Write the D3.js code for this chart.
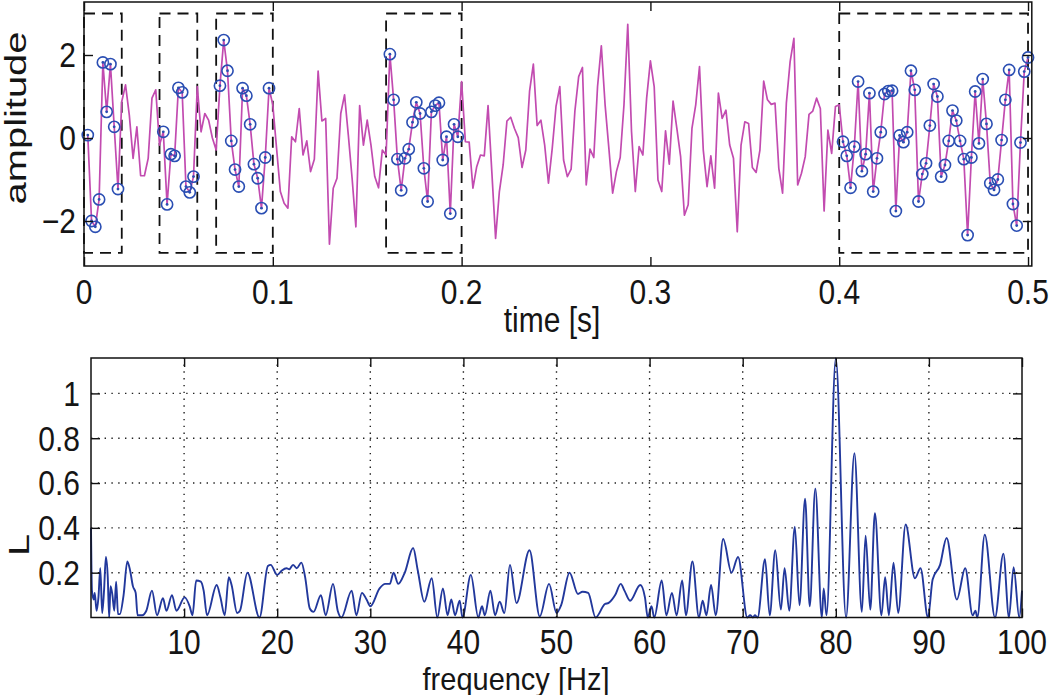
<!DOCTYPE html>
<html>
<head>
<meta charset="utf-8">
<script src="https://cdn.jsdelivr.net/npm/d3@7"></script>
<style>
  html, body { margin: 0; padding: 0; background: #fff; }
  svg { display: block; }
  text { font-family: "Liberation Sans", Arial, Helvetica, sans-serif; fill: #151515; }
</style>
</head>
<body>
<svg id="chart" width="1050" height="695"></svg>
<script>
// ---------------- DATA ----------------
// time series sampled every 2 ms, first sample at t = 0.002 s
const sampleStep = 0.002;
const amplitude = [
  0.07,-2.0,-2.14,-1.48,1.82,0.63,1.78,0.27,-1.23,0.88,
  1.28,0.55,-0.49,0.27,-0.91,-0.91,-0.49,0.96,1.16,-0.17,
  0.15,-1.6,-0.39,-0.43,1.21,1.10,-1.17,-1.31,-0.93,1.24,
  0.15,0.59,0.43,0.0,-0.29,1.26,2.36,1.62,-0.07,-0.76,
  -1.17,1.2,1.02,0.33,-0.63,-0.97,-1.69,-0.47,1.2,0.8,
  -0.25,-1.29,-1.57,-1.69,0.03,-0.09,0.71,-0.41,-0.07,-0.81,
  -0.51,1.61,0.41,0.47,-2.56,-1.21,-0.97,0.59,1.04,0.07,
  -0.97,-2.14,0.78,-0.17,0.43,-0.17,-0.93,-1.2,-0.29,-0.41,
  2.02,0.92,-0.51,-1.26,-0.49,-0.27,0.38,0.86,0.59,-0.73,
  -1.53,0.63,0.78,0.85,-0.53,0.03,-1.82,0.33,0.03,1.36,
  -0.09,-0.1,-1.21,-0.69,-0.41,-0.43,0.78,-0.81,-2.42,-1.29,
  -0.65,0.41,0.5,0.23,0.01,-0.71,-0.29,1.13,1.78,0.3,
  0.43,-0.17,-1.09,-0.25,0.76,1.24,-0.53,-0.93,-0.75,0.65,
  1.48,1.7,-1.13,-0.27,-0.47,1.24,2.22,0.8,-0.25,-1.33,
  -0.81,-0.47,0.8,2.74,0.15,-1.29,-0.21,-0.41,0.96,1.86,
  1.24,-1.01,-1.29,0.17,-0.63,0.89,0.23,-0.45,-1.86,-1.61,
  0.23,0.8,1.72,-0.29,-1.17,-0.43,-1.21,1.08,0.47,0.67,
  -0.17,-0.49,-2.26,-0.17,0.39,0.35,-0.71,-0.83,-0.29,1.37,
  0.92,0.81,0.84,-0.73,-1.33,0.84,1.84,2.4,-1.13,-0.85,
  -0.45,0.57,0.65,0.96,0.71,-1.76,0.19,-0.37,0.76,0.8,
  -0.09,-0.43,-1.2,-0.21,1.36,-0.8,-0.39,1.08,-1.29,-0.49,
  0.14,1.06,1.13,1.14,-1.76,0.06,-0.1,0.14,1.62,1.16,
  -1.53,-0.87,-0.61,0.3,1.3,1.0,-0.93,-0.65,-0.07,0.66,
  0.42,-0.07,-0.51,-2.34,-0.47,1.12,-0.13,1.42,0.34,-1.09,
  -1.25,-1.0,-0.05,0.92,1.64,-1.59,-2.11,-0.11,1.6,1.94
];
// sample-number ranges (1-based) that are marked with circles
const markedRanges = [[1, 9], [21, 29], [36, 49], [81, 99], [201, 250]];
// observation windows drawn as dashed boxes
const windowStart = [0, 0.04, 0.07, 0.16, 0.40];
const windowEnd   = [0.02, 0.06, 0.10, 0.20, 0.50];
const windowAmp   = [-2.77, 3.0];
const timeTicks = [0, 0.1, 0.2, 0.3, 0.4, 0.5];
const timeTickLabels = ["0", "0.1", "0.2", "0.3", "0.4", "0.5"];
const ampTicks = [-2, 0, 2];
const ampTickLabels = ["\u22122", "0", "2"];

// spectrum (frequency in Hz, L)
const freq = [
  0,0.1,0.3,0.4,0.6,0.8,1.0,1.2,1.4,1.6,1.8,1.95,2.1,2.3,2.5,2.7,2.9,3.1,3.5,3.9,
  4.2,4.5,4.8,5.0,5.5,5.94,6.55,7.09,7.73,8.1,8.7,9.17,10.06,10.6,10.9,11.3,11.8,12.1,12.46,13.5,
  13.9,14.36,14.8,15.1,15.7,16.0,16.8,18.1,19.0,19.3,20,20.5,21,21.3,21.7,22.1,22.6,23.0,23.5,23.9,
  24.7,25.2,26.0,26.5,26.9,28,28.5,29.1,29.6,30,31,31.6,32.1,32.5,33,33.7,34.6,35.1,35.8,36.6,
  37.2,37.8,38.3,38.7,39.1,39.6,39.9,40.8,41.6,42,42.3,42.9,43.4,43.9,44.4,45.0,45.7,47.1,48.2,49.2,
  50.0,50.5,51.4,52.3,52.8,53.4,54.2,55.2,55.6,56.3,56.9,57.3,57.9,59,59.5,59.8,60.2,60.5,61.3,61.8,
  62.4,62.9,63.5,63.9,64.6,65.3,65.7,66.1,66.6,67.1,67.9,68.8,69.5,70.5,70.8,71.1,71.3,71.6,72.4,72.9,
  73.5,74.1,74.5,75,75.6,76.1,76.7,77.2,77.8,78.5,78.7,79.0,80.0,81.1,82,82.8,83.2,83.7,84.2,84.9,
  85.3,85.7,86.2,86.7,87.5,88.5,89.1,89.9,90.4,91.2,91.9,93.0,93.9,94.7,95,95.2,96.0,97.1,98,98.6,
  99.1,99.7,100
];
const Lvalue = [
  0.4,0.12,0.08,0.11,0.03,0.09,0.22,0.02,0.12,0.27,0.18,0.0,0.14,0.1,0.03,0.16,0.015,0.015,0.1,0.25,
  0.21,0.14,0.11,0.01,0.01,0.03,0.12,0.01,0.086,0.03,0.1,0.03,0.09,0.05,0.01,0.165,0.16,0.12,0.01,0.145,
  0.09,0.01,0.18,0.145,0.02,0.03,0.2,0.0,0.23,0.235,0.19,0.21,0.22,0.215,0.235,0.22,0.245,0.18,0.04,0.025,
  0.1,0.01,0.15,0.03,0.0,0.12,0.01,0.11,0.08,0.05,0.13,0.15,0.15,0.2,0.15,0.2,0.31,0.21,0.07,0.175,
  0.0,0.13,0.01,0.08,0.01,0.075,0.0,0.19,0.0,0.05,0.01,0.12,0.01,0.07,0.02,0.235,0.065,0.3,0.005,0.15,
  0.02,0.055,0.2,0.105,0.115,0.11,0.0,0.06,0.065,0.1,0.15,0.12,0.075,0.145,0.09,0.0,0.05,0.0,0.165,0.01,
  0.11,0.01,0.165,0.01,0.25,0.0,0.075,0.01,0.145,0.01,0.35,0.2,0.27,0.0,0.01,0.0,0.01,0.0,0.26,0.01,
  0.3,0.035,0.22,0.03,0.405,0.055,0.53,0.05,0.575,0.0,0.13,0.01,1.157,0.0,0.733,0.025,0.365,0.035,0.465,0.01,
  0.18,0.01,0.245,0.02,0.415,0.175,0.22,0.0,0.17,0.235,0.355,0.08,0.22,0.01,0.03,0.0,0.37,0.0,0.285,0.0,
  0.225,0.0,0.12
];
const freqTicks = [10,20,30,40,50,60,70,80,90,100];
const freqTickLabels = ["10","20","30","40","50","60","70","80","90","100"];
const LTicks = [0.2,0.4,0.6,0.8,1];
const LTickLabels = ["0.2","0.4","0.6","0.8","1"];

// ---------------- DRAWING ----------------
const svg = d3.select("#chart");
const tickLen = 9;
const fs = 30;          // font size
const sy = 1.15;        // vertical stretch of the lettering
const capH = 0.716 * fs * sy;

function hText(g, x, y, str, anchor, size = fs, stretch = sy) {   // y = baseline
  return g.append("text").attr("transform", `translate(${x},${y}) scale(1,${stretch})`)
    .attr("text-anchor", anchor).attr("font-size", size).text(str);
}
function vText(g, x, y, str, stretch) {  // rotated label, x = baseline
  return g.append("text").attr("transform", `translate(${x},${y}) rotate(-90) scale(${stretch},1)`)
    .attr("text-anchor", "middle").attr("font-size", fs).text(str);
}
function frame(g, x0, x1, y0, y1) {
  g.append("rect").attr("x", x0).attr("y", y0).attr("width", x1 - x0).attr("height", y1 - y0)
    .attr("fill", "none").attr("stroke", "#111").attr("stroke-width", 1.5);
}

// ===== top panel =====
const xT = d3.scaleLinear().domain([0, 0.502]).range([84, 1031.8]);
const yT = d3.scaleLinear().domain([-3.084, 3.277]).range([266, 2]);
const gTop = svg.append("g");
const samples = amplitude.map((v, i) => ({ t: (i + 1) * sampleStep, v, n: i + 1 }));

windowStart.forEach((s, i) => {
  gTop.append("rect")
    .attr("x", xT(s)).attr("y", yT(windowAmp[1]))
    .attr("width", xT(windowEnd[i]) - xT(s))
    .attr("height", yT(windowAmp[0]) - yT(windowAmp[1]))
    .attr("fill", "none").attr("stroke", "#111").attr("stroke-width", 1.8)
    .attr("stroke-dasharray", "11,7");
});

gTop.append("path").datum(samples)
  .attr("fill", "none").attr("stroke", "#c24bb0").attr("stroke-width", 1.7)
  .attr("stroke-linejoin", "round")
  .attr("d", d3.line().x(d => xT(d.t)).y(d => yT(d.v)));

const marked = samples.filter(d => markedRanges.some(r => d.n >= r[0] && d.n <= r[1]));
gTop.selectAll("circle.m").data(marked).join("circle").attr("class", "m")
  .attr("cx", d => xT(d.t)).attr("cy", d => yT(d.v)).attr("r", 5.6)
  .attr("fill", "none").attr("stroke", "#2a4eb3").attr("stroke-width", 1.6);
gTop.selectAll("circle.d").data(marked).join("circle").attr("class", "d")
  .attr("cx", d => xT(d.t)).attr("cy", d => yT(d.v)).attr("r", 1.4)
  .attr("fill", "#2a4eb3");

frame(gTop, xT.range()[0], xT.range()[1], yT.range()[1], yT.range()[0]);
gTop.append("g").attr("transform", `translate(0,${yT.range()[0]})`)
  .call(d3.axisBottom(xT).tickValues(timeTicks).tickFormat("").tickSizeInner(-tickLen).tickSizeOuter(0));
gTop.append("g").attr("transform", `translate(0,${yT.range()[1]})`)
  .call(d3.axisTop(xT).tickValues(timeTicks).tickFormat("").tickSizeInner(-tickLen).tickSizeOuter(0));
gTop.append("g").attr("transform", `translate(${xT.range()[0]},0)`)
  .call(d3.axisLeft(yT).tickValues(ampTicks).tickFormat("").tickSizeInner(-tickLen).tickSizeOuter(0));
gTop.append("g").attr("transform", `translate(${xT.range()[1]},0)`)
  .call(d3.axisRight(yT).tickValues(ampTicks).tickFormat("").tickSizeInner(-tickLen).tickSizeOuter(0));

timeTicks.forEach((t, i) => hText(gTop, xT(t), yT.range()[0] + 13 + capH, timeTickLabels[i], "middle"));
ampTicks.forEach((a, i) => hText(gTop, xT.range()[0] - 8, yT(a) + capH / 2, ampTickLabels[i], "end"));
hText(gTop, 552, 332, "time [s]", "middle");
vText(gTop, 26, 118, "amplitude", 1.33);

// ===== bottom panel =====
const xB = d3.scaleLinear().domain([0, 100]).range([91, 1022]);
const yB = d3.scaleLinear().domain([0, 1.158]).range([617.5, 358]);
const gBot = svg.append("g");

gBot.selectAll("line.gx").data(freqTicks.filter(d => d < 100)).join("line").attr("class", "gx")
  .attr("x1", d => xB(d)).attr("x2", d => xB(d)).attr("y1", yB.range()[0]).attr("y2", yB.range()[1])
  .attr("stroke", "#222").attr("stroke-width", 1.4).attr("stroke-dasharray", "1.4,5.4");
gBot.selectAll("line.gy").data(LTicks).join("line").attr("class", "gy")
  .attr("x1", xB.range()[0]).attr("x2", xB.range()[1]).attr("y1", d => yB(d)).attr("y2", d => yB(d))
  .attr("stroke", "#222").attr("stroke-width", 1.4).attr("stroke-dasharray", "1.4,5.4");

const spec = freq.map((f, i) => ({ f, L: Lvalue[i] }));
gBot.append("path").datum(spec)
  .attr("fill", "none").attr("stroke", "#22389c").attr("stroke-width", 1.9)
  .attr("stroke-linejoin", "round")
  .attr("d", d3.line().x(d => xB(d.f)).y(d => yB(d.L)).curve(d3.curveMonotoneX));

frame(gBot, xB.range()[0], xB.range()[1], yB.range()[1], yB.range()[0]);
gBot.append("g").attr("transform", `translate(0,${yB.range()[0]})`)
  .call(d3.axisBottom(xB).tickValues(freqTicks).tickFormat("").tickSizeInner(-tickLen).tickSizeOuter(0));
gBot.append("g").attr("transform", `translate(0,${yB.range()[1]})`)
  .call(d3.axisTop(xB).tickValues(freqTicks).tickFormat("").tickSizeInner(-tickLen).tickSizeOuter(0));
gBot.append("g").attr("transform", `translate(${xB.range()[0]},0)`)
  .call(d3.axisLeft(yB).tickValues(LTicks).tickFormat("").tickSizeInner(-tickLen).tickSizeOuter(0));
gBot.append("g").attr("transform", `translate(${xB.range()[1]},0)`)
  .call(d3.axisRight(yB).tickValues(LTicks).tickFormat("").tickSizeInner(-tickLen).tickSizeOuter(0));

freqTicks.forEach((f, i) => hText(gBot, xB(f), 654, freqTickLabels[i], "middle"));
LTicks.forEach((l, i) => hText(gBot, xB.range()[0] - 11, yB(l) + capH / 2, LTickLabels[i], "end"));
hText(gBot, 516, 690, "frequency [Hz]", "middle", 29, 1.1);
vText(gBot, 29, 545, "L", 1.33);

svg.selectAll(".domain").remove();
svg.selectAll(".tick line").attr("stroke", "#111").attr("stroke-width", 1.4);
</script>
</body>
</html>
